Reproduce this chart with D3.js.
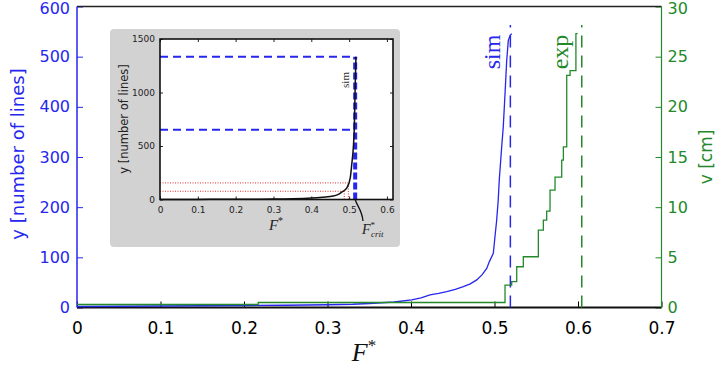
<!DOCTYPE html>
<meta charset="utf-8">
<head>
<script src="https://cdn.jsdelivr.net/npm/d3@7"></script>
<style>
body { margin: 0; background: #fff; }
svg text { font-family: "DejaVu Sans", sans-serif; }
.serif { font-family: "Liberation Serif", "DejaVu Serif", serif !important; }
</style>
</head>
<body>
<svg id="chart"></svg>
<script>
// main plot: x ticks, two y axes
var xTicks = [0, 0.1, 0.2, 0.3, 0.4, 0.5, 0.6, 0.7];
var linesTicks = [0, 100, 200, 300, 400, 500, 600];
var cmTicks = [0, 5, 10, 15, 20, 25, 30];

// simulation: number of lines vs F*
var simF = [0, 0.05, 0.1, 0.15, 0.2, 0.25, 0.3, 0.33, 0.35, 0.38, 0.4008, 0.412, 0.4228, 0.433, 0.4428, 0.453, 0.4627, 0.471, 0.4787, 0.485, 0.4907, 0.494, 0.4986, 0.5005, 0.5026, 0.5045, 0.5057, 0.5086, 0.5105, 0.5126, 0.5146, 0.5165, 0.5186, 0.5206];
var simLines = [2, 2.5, 3, 3.5, 4, 4.5, 5.5, 6.5, 8, 11, 15, 19, 25, 28, 31.5, 36, 41.5, 47, 55, 65, 78, 92, 108, 140, 174, 215, 254, 320, 360, 426, 492, 532, 542, 546];

// experiment: v [cm] vs F* (steps)
var expF = [0, 0.217, 0.5126, 0.5206, 0.5266, 0.5345, 0.5525, 0.5585, 0.5625, 0.5665, 0.5725, 0.5805, 0.5825, 0.5865, 0.5905, 0.5975, 0.5995];
var expV = [0.3, 0.5, 2.24, 2.57, 4.06, 5.06, 7.71, 8.71, 9.6, 11.69, 13.0, 14.68, 16.0, 23.13, 23.6, 27.3, 27.3];

var simCrit = 0.519, expCrit = 0.6045;

// inset
var insetXTicks = [0, 0.1, 0.2, 0.3, 0.4, 0.5, 0.6];
var insetYTicks = [0, 500, 1000, 1500];
var insetF = [0, 0.1, 0.2, 0.3, 0.35, 0.4, 0.43, 0.458, 0.47, 0.48, 0.494, 0.503, 0.507, 0.511, 0.514, 0.516, 0.518];
var insetLines = [0, 1, 2, 4, 7, 14, 22, 32, 45, 68, 109, 202, 330, 480, 700, 1056, 1335];
var insetCrit = 0.516;
var insetDashLevels = [1333, 652];
var insetDotLevels = [155, 77];
var insetDotF = [0.498, 0.487];

var blue = "#2626ee", green = "#23892a";

var svg = d3.select("#chart").attr("width", 716).attr("height", 367);

var x = d3.scaleLinear().domain([0, 0.7]).range([77, 661.5]);
var yL = d3.scaleLinear().domain([0, 600]).range([307.5, 6.5]);
var yR = d3.scaleLinear().domain([0, 30]).range([307.5, 6.5]);

// axes with inward ticks
var gx = svg.append("g").attr("transform", "translate(0,307.5)")
  .call(d3.axisBottom(x).tickValues(xTicks).tickFormat(d3.format("")).tickSize(-6).tickSizeOuter(0).tickPadding(14));
gx.selectAll("line").attr("stroke", "#000");
gx.selectAll("text").attr("fill", "#000").style("font-size", "17px");

var gl = svg.append("g").attr("transform", "translate(77,0)")
  .call(d3.axisLeft(yL).tickValues(linesTicks).tickSize(-6).tickSizeOuter(0).tickPadding(7));
gl.selectAll("line").attr("stroke", blue);
gl.selectAll("text").attr("fill", blue).style("font-size", "16px");

var gr = svg.append("g").attr("transform", "translate(661.5,0)")
  .call(d3.axisRight(yR).tickValues(cmTicks).tickSize(-6).tickSizeOuter(0).tickPadding(6));
gr.selectAll("line").attr("stroke", green);
gr.selectAll("text").attr("fill", green).style("font-size", "16px");

// keep the top labels inside the page
gl.selectAll("text").filter(function(d) { return d === 600; }).attr("dy", "0.42em");
gr.selectAll("text").filter(function(d) { return d === 30; }).attr("dy", "0.42em");

svg.selectAll(".domain").remove();

// frame
svg.append("line").attr("x1", 77).attr("x2", 661.5).attr("y1", 6.5).attr("y2", 6.5).attr("stroke", "#222").attr("stroke-width", 1.5);
svg.append("line").attr("x1", 77).attr("x2", 661.5).attr("y1", 307.5).attr("y2", 307.5).attr("stroke", "#111").attr("stroke-width", 2);
svg.append("line").attr("x1", 77).attr("x2", 77).attr("y1", 6.5).attr("y2", 307.5).attr("stroke", blue).attr("stroke-width", 1.5);
svg.append("line").attr("x1", 661.5).attr("x2", 661.5).attr("y1", 6.5).attr("y2", 307.5).attr("stroke", green).attr("stroke-width", 1.2);

// axis titles
svg.append("text").attr("transform", "translate(19,154) rotate(-90)").attr("text-anchor", "middle")
  .attr("dominant-baseline", "middle").attr("fill", blue).style("font-size", "18px").text("y [number of lines]");
svg.append("text").attr("transform", "translate(707,157) rotate(-90)").attr("text-anchor", "middle")
  .attr("dominant-baseline", "middle").attr("fill", green).style("font-size", "17px").text("v [cm]");
var fl = svg.append("text").attr("class", "serif").attr("x", 364).attr("y", 361).attr("text-anchor", "middle")
  .style("font-size", "26px").style("font-style", "italic").attr("fill", "#111");
fl.append("tspan").text("F");
fl.append("tspan").attr("dy", -10).style("font-size", "17px").style("font-style", "normal").text("*");

// critical dashed lines
svg.append("line").attr("x1", x(simCrit)).attr("x2", x(simCrit)).attr("y1", yL(0)).attr("y2", 25)
  .attr("stroke", blue).attr("stroke-width", 1.5).attr("stroke-dasharray", "12,8");
svg.append("line").attr("x1", x(expCrit)).attr("x2", x(expCrit)).attr("y1", yL(0)).attr("y2", 25)
  .attr("stroke", green).attr("stroke-width", 1.5).attr("stroke-dasharray", "12,8");

// curves
var simLine = d3.line().x(function(d, i) { return x(simF[i]); }).y(function(d) { return yL(d); });
svg.append("path").attr("d", simLine(simLines)).attr("fill", "none").attr("stroke", blue).attr("stroke-width", 1.3);

var expLine = d3.line().curve(d3.curveStepAfter).x(function(d, i) { return x(expF[i]); }).y(function(d) { return yR(d); });
svg.append("path").attr("d", expLine(expV)).attr("fill", "none").attr("stroke", green).attr("stroke-width", 1.3);

svg.append("text").attr("class", "serif").attr("transform", "translate(494,52) rotate(-90)").attr("text-anchor", "middle")
  .attr("dominant-baseline", "middle").attr("fill", blue).style("font-size", "24px").text("sim");
svg.append("text").attr("class", "serif").attr("transform", "translate(562,52) rotate(-90)").attr("text-anchor", "middle")
  .attr("dominant-baseline", "middle").attr("fill", green).style("font-size", "24px").text("exp");

// ---- inset ----
var ins = svg.append("g");
ins.append("rect").attr("x", 110).attr("y", 29).attr("width", 290).attr("height", 218).attr("rx", 4).attr("fill", "#d2d2d2");
ins.append("rect").attr("x", 160).attr("y", 39).attr("width", 233).attr("height", 160.5).attr("fill", "#fff");

var ix = d3.scaleLinear().domain([0, 0.616]).range([160, 393]);
var iy = d3.scaleLinear().domain([0, 1500]).range([199.5, 39]);

var igx = ins.append("g").attr("transform", "translate(0,199.5)")
  .call(d3.axisBottom(ix).tickValues(insetXTicks).tickFormat(d3.format("")).tickSize(-3).tickSizeOuter(0).tickPadding(7));
var igt = ins.append("g").attr("transform", "translate(0,39)")
  .call(d3.axisTop(ix).tickValues(insetXTicks).tickFormat("").tickSize(-3).tickSizeOuter(0));
var igy = ins.append("g").attr("transform", "translate(160,0)")
  .call(d3.axisLeft(iy).tickValues(insetYTicks).tickFormat(d3.format("d")).tickSize(-3).tickSizeOuter(0).tickPadding(5));
var igr = ins.append("g").attr("transform", "translate(393,0)")
  .call(d3.axisRight(iy).tickValues(insetYTicks).tickFormat("").tickSize(-3).tickSizeOuter(0));
ins.selectAll(".domain").remove();
ins.selectAll("text").attr("fill", "#222").style("font-size", "9px");
ins.selectAll(".tick line").attr("stroke", "#222");

// red dotted guides
insetDotLevels.forEach(function(v, i) {
  ins.append("line").attr("x1", ix(0)).attr("x2", ix(insetDotF[i])).attr("y1", iy(v)).attr("y2", iy(v))
    .attr("stroke", "#e03030").attr("stroke-width", 1).attr("stroke-dasharray", "1,1.5");
  ins.append("line").attr("x1", ix(insetDotF[i])).attr("x2", ix(insetDotF[i])).attr("y1", iy(0)).attr("y2", iy(v))
    .attr("stroke", "#e03030").attr("stroke-width", 1).attr("stroke-dasharray", "1,1.5");
});

// blue dashed guides
insetDashLevels.forEach(function(v) {
  ins.append("line").attr("x1", ix(0)).attr("x2", ix(insetCrit)).attr("y1", iy(v)).attr("y2", iy(v))
    .attr("stroke", blue).attr("stroke-width", 2).attr("stroke-dasharray", "8,5");
});
ins.append("line").attr("x1", ix(insetCrit)).attr("x2", ix(insetCrit)).attr("y1", iy(0)).attr("y2", iy(insetDashLevels[0]))
  .attr("stroke", blue).attr("stroke-width", 4).attr("stroke-dasharray", "7,3");

var insetLine = d3.line().curve(d3.curveMonotoneX).x(function(d, i) { return ix(insetF[i]); }).y(function(d) { return iy(d); });
ins.append("path").attr("d", insetLine(insetLines)).attr("fill", "none").attr("stroke", "#111").attr("stroke-width", 1.5);

// inset frame
ins.append("rect").attr("x", 160).attr("y", 39).attr("width", 233).attr("height", 160.5)
  .attr("fill", "none").attr("stroke", "#111").attr("stroke-width", 1.6);

ins.append("text").attr("transform", "translate(124,119) rotate(-90)").attr("text-anchor", "middle")
  .attr("dominant-baseline", "middle").attr("fill", "#222").style("font-size", "11.5px").text("y [number of lines]");
var ifl = ins.append("text").attr("class", "serif").attr("x", 276).attr("y", 230).attr("text-anchor", "middle")
  .style("font-size", "15px").style("font-style", "italic").attr("fill", "#222");
ifl.append("tspan").text("F");
ifl.append("tspan").attr("dy", -6).style("font-size", "10px").style("font-style", "normal").text("*");

ins.append("text").attr("class", "serif").attr("transform", "translate(346,80) rotate(-90)").attr("text-anchor", "middle")
  .attr("dominant-baseline", "middle").attr("fill", "#333").style("font-size", "11px").text("sim");

// F*crit pointer
ins.append("path").attr("d", "M" + ix(insetCrit) + ",199.5 C 357,206 362,210 363,221")
  .attr("fill", "none").attr("stroke", "#111").attr("stroke-width", 1.3);
var fc = ins.append("text").attr("class", "serif").attr("x", 362).attr("y", 234)
  .style("font-size", "14px").style("font-style", "italic").attr("fill", "#222");
fc.append("tspan").text("F");
fc.append("tspan").attr("dy", -6).style("font-size", "9px").style("font-style", "normal").text("*");
fc.append("tspan").attr("dx", -4).attr("dy", 9).style("font-size", "9px").text("crit");
</script>
</body>
